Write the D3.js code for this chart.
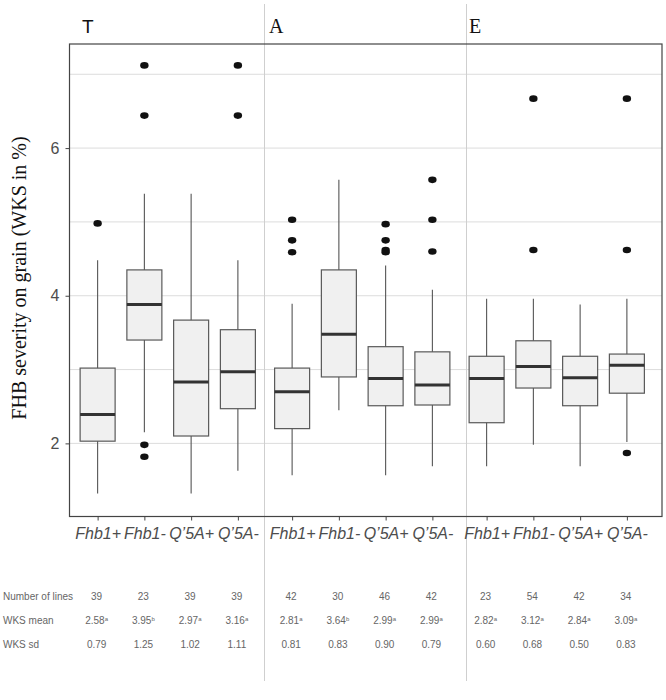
<!DOCTYPE html>
<html>
<head>
<meta charset="utf-8">
<script src="https://cdn.jsdelivr.net/npm/d3@7"></script>
<style>
  body { margin: 0; background: #fff; }
  svg { display: block; }
</style>
</head>
<body>
<script>
// Box plot of FHB severity per genotype group, in three panels (T, A, E)

var W = 666;
var H = 700;

// chart data
var groups = ["T", "A", "E"];
var categories = ["Fhb1+", "Fhb1-", "Q\u20195A+", "Q\u20195A-"];

// one entry per box, panel by panel: T then A then E
var lowerWhisker = [1.32, 2.15, 1.32, 1.63,  1.57, 2.45, 1.57, 1.69,  1.69, 1.98, 1.69, 2.02];
var q1Values     = [2.03, 3.40, 2.10, 2.47,  2.20, 2.90, 2.51, 2.52,  2.28, 2.75, 2.51, 2.68];
var medians      = [2.39, 3.88, 2.83, 2.97,  2.70, 3.48, 2.88, 2.79,  2.88, 3.04, 2.89, 3.06];
var q3Values     = [3.02, 4.35, 3.67, 3.54,  3.02, 4.35, 3.31, 3.24,  3.18, 3.39, 3.18, 3.21];
var upperWhisker = [4.48, 5.38, 5.38, 4.48,  3.89, 5.57, 4.41, 4.08,  3.96, 3.96, 3.88, 3.96];
var outliers = [
  [4.98], [1.98, 1.82, 6.44, 7.12], [], [6.44, 7.12],
  [5.03, 4.75, 4.59], [], [4.97, 4.75, 4.62, 4.59], [5.57, 5.03, 4.60],
  [], [4.62, 6.67], [], [1.87, 4.62, 6.67]
];

// table under the chart
var nLines  = ["39", "23", "39", "39",  "42", "30", "46", "42",  "23", "54", "42", "34"];
var wksMean = ["2.58", "3.95", "2.97", "3.16",  "2.81", "3.64", "2.99", "2.99",  "2.82", "3.12", "2.84", "3.09"];
var meanSup = ["a", "b", "a", "a",  "a", "b", "a", "a",  "a", "a", "a", "a"];
var wksSd   = ["0.79", "1.25", "1.02", "1.11",  "0.81", "0.83", "0.90", "0.79",  "0.60", "0.68", "0.50", "0.83"];

var yTicks = [2, 4, 6];
var yGrid = [2, 3, 4, 5, 6, 7];

// frame of the plot
var frameL = 69.5, frameR = 662, frameT = 44, frameB = 516.5;
var dividerX = [264.5, 466.5];

var SANS = "'Liberation Sans', Arial, sans-serif";
var SERIF = "'Liberation Serif', 'Times New Roman', serif";

function main() {
  var svg = d3.select("body").append("svg")
    .attr("width", W)
    .attr("height", H);

  var groupScale = d3.scaleBand()
    .domain(groups)
    .range([70.5, 654]);
  var catScale = d3.scalePoint()
    .domain(categories)
    .range([0, groupScale.bandwidth()])
    .padding(0.58);
  var yScale = d3.scaleLinear()
    .domain([1.03, 7.41])
    .range([515, 44]);

  // flatten to one record per box
  var boxes = [];
  groups.forEach(function(g, gi) {
    categories.forEach(function(c, ci) {
      var i = gi * 4 + ci;
      boxes.push({
        group: g, cat: c, i: i,
        x: groupScale(g) + catScale(c),
        lw: lowerWhisker[i], q1: q1Values[i], med: medians[i],
        q3: q3Values[i], uw: upperWhisker[i], out: outliers[i]
      });
    });
  });

  // grid lines
  svg.append("g").selectAll("line")
    .data(yGrid)
    .enter().append("line")
    .attr("x1", frameL).attr("x2", frameR)
    .attr("y1", function(d) { return yScale(d); })
    .attr("y2", function(d) { return yScale(d); })
    .style("stroke", "#dcdcdc")
    .style("stroke-width", 1);

  // panel dividers
  svg.append("g").selectAll("line")
    .data(dividerX)
    .enter().append("line")
    .attr("x1", function(d) { return d; })
    .attr("x2", function(d) { return d; })
    .attr("y1", 4).attr("y2", 681)
    .style("stroke", "#cfcfcf")
    .style("stroke-width", 1);

  // whiskers
  var bw = 35;
  var g = svg.append("g");
  g.selectAll("line.whisker")
    .data(boxes)
    .enter().append("line")
    .attr("class", "whisker")
    .attr("x1", function(d) { return d.x; })
    .attr("x2", function(d) { return d.x; })
    .attr("y1", function(d) { return yScale(d.lw); })
    .attr("y2", function(d) { return yScale(d.uw); })
    .style("stroke", "#555")
    .style("stroke-width", 1.1);

  g.selectAll("rect.box")
    .data(boxes)
    .enter().append("rect")
    .attr("class", "box")
    .attr("x", function(d) { return d.x - bw / 2; })
    .attr("width", bw)
    .attr("y", function(d) { return yScale(d.q3); })
    .attr("height", function(d) { return yScale(d.q1) - yScale(d.q3); })
    .style("fill", "#f0f0f0")
    .style("stroke", "#595959")
    .style("stroke-width", 1.2);

  g.selectAll("line.median")
    .data(boxes)
    .enter().append("line")
    .attr("class", "median")
    .attr("x1", function(d) { return d.x - bw / 2; })
    .attr("x2", function(d) { return d.x + bw / 2; })
    .attr("y1", function(d) { return yScale(d.med); })
    .attr("y2", function(d) { return yScale(d.med); })
    .style("stroke", "#333")
    .style("stroke-width", 3);

  // outlier points
  var pts = [];
  boxes.forEach(function(b) {
    b.out.forEach(function(v) { pts.push({ x: b.x, v: v }); });
  });
  g.selectAll("ellipse")
    .data(pts)
    .enter().append("ellipse")
    .attr("cx", function(d) { return d.x; })
    .attr("cy", function(d) { return yScale(d.v); })
    .attr("rx", 4.2)
    .attr("ry", 3.3)
    .style("fill", "#111");

  // frame
  svg.append("rect")
    .attr("x", frameL).attr("y", frameT)
    .attr("width", frameR - frameL).attr("height", frameB - frameT)
    .style("fill", "none")
    .style("stroke", "#444")
    .style("stroke-width", 1.2);

  // y axis
  var yAxis = d3.axisLeft(yScale)
    .tickValues(yTicks)
    .tickSize(4)
    .tickPadding(6)
    .tickFormat(d3.format("d"));
  var ya = svg.append("g")
    .attr("transform", "translate(" + frameL + ",0)")
    .call(yAxis);
  ya.select(".domain").remove();
  ya.selectAll("line").style("stroke", "#444");
  ya.selectAll("text")
    .style("font-family", SANS)
    .style("font-size", "16px")
    .style("fill", "#4d4d4d");

  // x axis, one per panel
  groups.forEach(function(gr) {
    var xAxis = d3.axisBottom(catScale)
      .tickSize(4)
      .tickPadding(7);
    var xa = svg.append("g")
      .attr("transform", "translate(" + groupScale(gr) + "," + frameB + ")")
      .call(xAxis);
    xa.select(".domain").remove();
    xa.selectAll("line").style("stroke", "#444");
    xa.selectAll("text")
      .style("font-family", SANS)
      .style("font-style", "italic")
      .style("font-size", "16px")
      .style("fill", "#4d4d4d");
  });

  // y title
  svg.append("text")
    .attr("transform", "translate(26,278) rotate(-90)")
    .attr("text-anchor", "middle")
    .style("font-family", SERIF)
    .style("font-size", "20px")
    .style("fill", "#111")
    .text("FHB severity on grain (WKS in %)");

  // panel letters
  var letterX = { T: 82, A: 269, E: 469 };
  svg.selectAll("text.panel")
    .data(groups)
    .enter().append("text")
    .attr("class", "panel")
    .attr("x", function(d) { return letterX[d]; })
    .attr("y", 33)
    .style("font-family", function(d) { return d == "T" ? SANS : SERIF; })
    .style("font-size", function(d) { return d == "T" ? "19px" : "20px"; })
    .style("fill", "#111")
    .text(function(d) { return d; });

  // table
  var rowY = [600, 624, 648];
  var rowNames = ["Number of lines", "WKS mean", "WKS sd"];
  svg.selectAll("text.rowname")
    .data(rowNames)
    .enter().append("text")
    .attr("class", "rowname")
    .attr("x", 3)
    .attr("y", function(d, i) { return rowY[i]; })
    .style("font-family", SANS)
    .style("font-size", "10px")
    .style("fill", "#666")
    .text(function(d) { return d; });

  var cells = svg.append("g");
  boxes.forEach(function(b) {
    var cx = b.x - 1;
    cells.append("text")
      .attr("x", cx).attr("y", rowY[0])
      .attr("text-anchor", "middle")
      .style("font-family", SANS).style("font-size", "10px").style("fill", "#666")
      .text(nLines[b.i]);
    var t = cells.append("text")
      .attr("x", cx).attr("y", rowY[1])
      .attr("text-anchor", "middle")
      .style("font-family", SANS).style("font-size", "10px").style("fill", "#666");
    t.append("tspan").text(wksMean[b.i]);
    t.append("tspan")
      .attr("dy", -3)
      .style("font-size", "6px")
      .text(meanSup[b.i]);
    cells.append("text")
      .attr("x", cx).attr("y", rowY[2])
      .attr("text-anchor", "middle")
      .style("font-family", SANS).style("font-size", "10px").style("fill", "#666")
      .text(wksSd[b.i]);
  });
}

main();
</script>
</body>
</html>
